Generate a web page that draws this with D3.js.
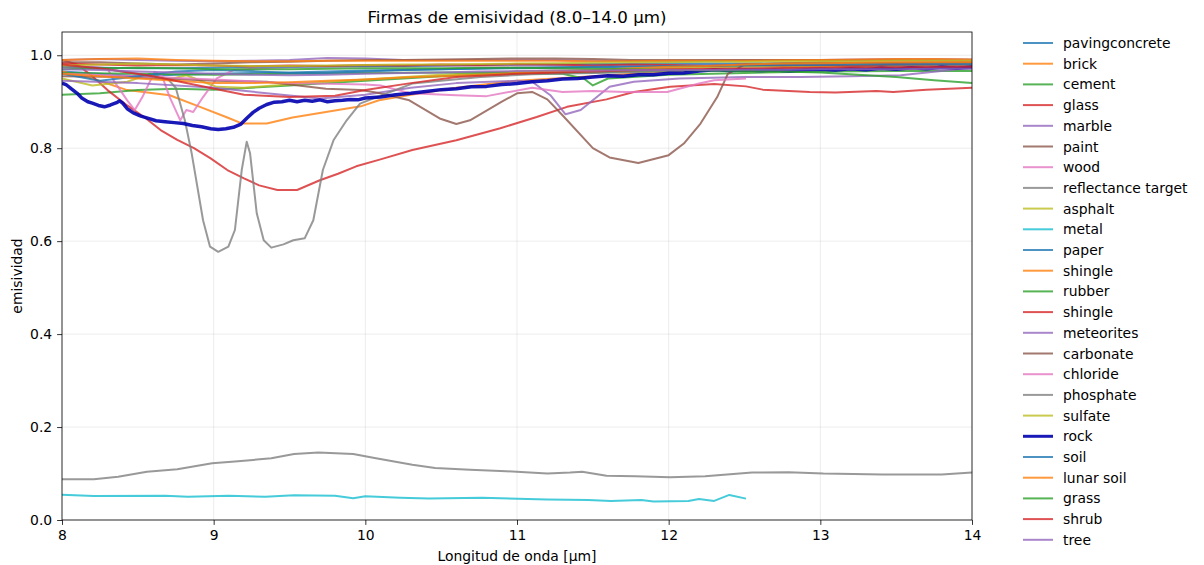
<!DOCTYPE html>
<html>
<head>
<meta charset="utf-8">
<script src="https://cdn.jsdelivr.net/npm/d3@7"></script>
<style>
  body { margin: 0; background: #fff; }
  text { font-family: "DejaVu Sans", sans-serif; fill: #000; }
</style>
</head>
<body>
<div id="mainDiv"></div>
<script>
// shared wavelength grid for the flat spectra
var grid = [8.0, 8.25, 8.5, 8.75, 9.0, 9.25, 9.5, 9.75, 10.0, 10.25, 10.5, 10.75, 11.0,
            11.25, 11.5, 11.75, 12.0, 12.25, 12.5, 12.75, 13.0, 13.25, 13.5, 13.75, 14.0];

var names = ["pavingconcrete", "brick", "cement", "glass", "marble", "paint", "wood",
             "reflectance target", "asphalt", "metal", "paper", "shingle", "rubber", "shingle",
             "meteorites", "carbonate", "chloride", "phosphate", "sulfate", "rock", "soil",
             "lunar soil", "grass", "shrub", "tree"];

var colors = ["#1f77b4", "#ff7f0e", "#2ca02c", "#d62728", "#9467bd", "#8c564b", "#e377c2",
              "#7f7f7f", "#bcbd22", "#17becf"];

// flat ones (values on grid)
var pavingconcrete = [0.965,0.960,0.955,0.958,0.960,0.962,0.963,0.965,0.967,0.968,0.970,0.971,0.972,0.973,0.974,0.975,0.975,0.976,0.977,0.977,0.978,0.978,0.979,0.979,0.980];
var cement = [0.915,0.918,0.925,0.928,0.926,0.930,0.935,0.940,0.945,0.950,0.955,0.958,0.960,0.962,0.963,0.965,0.967,0.968,0.968,0.970,0.970,0.971,0.971,0.972,0.972];
var marble = [0.990,0.992,0.990,0.988,0.987,0.988,0.990,0.994,0.993,0.990,0.990,0.990,0.990,0.990,0.988,0.987,0.987,0.988,0.989,0.990,0.990,0.991,0.992,0.992,0.991];
var paint = [0.985,0.985,0.982,0.980,0.982,0.985,0.986,0.988,0.990,0.990,0.991,0.992,0.993,0.993,0.992,0.990,0.990,0.990,0.990,0.990,0.990,0.990,0.990,0.989,0.988];
var paper = [0.975,0.973,0.972,0.972,0.973,0.975,0.975,0.976,0.977,0.977,0.978,0.979,0.980,0.980,0.981,0.981,0.982,0.982,0.982,0.983,0.983,0.983,0.984,0.984,0.984];
var shingleA = [0.990,0.992,0.993,0.990,0.988,0.987,0.987,0.988,0.988,0.988,0.988,0.988,0.988,0.988,0.987,0.987,0.988,0.988,0.988,0.989,0.990,0.991,0.992,0.992,0.991];
var shingleB = [0.982,0.980,0.978,0.979,0.978,0.976,0.978,0.977,0.979,0.978,0.980,0.979,0.981,0.980,0.978,0.980,0.979,0.977,0.980,0.978,0.979,0.977,0.980,0.979,0.978];
var sulfate = [0.978,0.980,0.982,0.980,0.978,0.977,0.977,0.978,0.979,0.980,0.980,0.981,0.982,0.983,0.984,0.985,0.985,0.986,0.986,0.987,0.987,0.987,0.988,0.988,0.988];
var soil = [0.960,0.945,0.955,0.965,0.968,0.966,0.962,0.962,0.965,0.968,0.970,0.972,0.973,0.974,0.975,0.976,0.977,0.978,0.978,0.979,0.979,0.980,0.980,0.981,0.981];
var lunarSoil = [0.960,0.955,0.950,0.945,0.940,0.940,0.942,0.945,0.948,0.952,0.955,0.958,0.962,0.965,0.968,0.972,0.975,0.977,0.980,0.982,0.983,0.984,0.985,0.985,0.985];
var grass = [0.970,0.972,0.973,0.972,0.970,0.970,0.970,0.971,0.972,0.972,0.972,0.973,0.973,0.972,0.971,0.970,0.969,0.967,0.966,0.965,0.963,0.958,0.953,0.946,0.940];
var tree = [0.970,0.968,0.965,0.963,0.960,0.958,0.957,0.958,0.960,0.962,0.963,0.965,0.966,0.967,0.967,0.968,0.968,0.968,0.969,0.969,0.970,0.970,0.970,0.971,0.971];

// spectra with features: [wavelength, emissivity]
var brick = [[8.0,0.965],[8.2,0.95],[8.43,0.925],[8.71,0.914],[8.91,0.889],[9.09,0.866],[9.19,0.853],[9.35,0.853],[9.52,0.866],[9.74,0.878],[9.97,0.89],[10.09,0.903],[10.3,0.915],[10.6,0.93],[11.0,0.945],[11.5,0.955],[12.0,0.965],[13.0,0.975],[14.0,0.98]];
var glass = [[8.0,0.99],[8.1,0.98],[8.2,0.955],[8.3,0.925],[8.43,0.892],[8.55,0.865],[8.65,0.839],[8.76,0.818],[8.87,0.8],[8.98,0.778],[9.09,0.753],[9.2,0.735],[9.3,0.72],[9.42,0.71],[9.55,0.71],[9.7,0.731],[9.82,0.745],[9.94,0.761],[10.1,0.776],[10.31,0.796],[10.6,0.817],[10.89,0.843],[11.13,0.867],[11.33,0.889],[11.59,0.905],[11.77,0.921],[12.01,0.932],[12.3,0.938],[12.51,0.933],[12.62,0.926],[12.93,0.921],[13.1,0.92],[13.37,0.923],[13.48,0.921],[13.7,0.926],[14.0,0.93]];
var wood = [[8.0,0.975],[8.2,0.975],[8.3,0.972],[8.34,0.946],[8.43,0.903],[8.48,0.882],[8.53,0.91],[8.61,0.964],[8.66,0.955],[8.71,0.91],[8.78,0.86],[8.82,0.882],[8.865,0.878],[8.93,0.91],[9.02,0.95],[9.13,0.968],[9.3,0.972],[9.6,0.975],[10.0,0.976],[11.0,0.978],[12.0,0.979],[13.0,0.98],[14.0,0.98]];
var reflTarget = [[8.0,0.0875],[8.21,0.0875],[8.37,0.093],[8.56,0.104],[8.76,0.109],[8.99,0.122],[9.14,0.126],[9.22,0.128],[9.38,0.133],[9.53,0.142],[9.69,0.145],[9.92,0.142],[10.07,0.133],[10.31,0.119],[10.46,0.112],[10.69,0.108],[10.93,0.105],[11.2,0.1],[11.35,0.102],[11.43,0.104],[11.59,0.095],[11.78,0.094],[12.01,0.092],[12.24,0.094],[12.55,0.102],[12.79,0.103],[13.02,0.1],[13.41,0.098],[13.8,0.098],[14.0,0.102]];
var asphalt = [[8.0,0.95],[8.2,0.935],[8.43,0.943],[8.58,0.96],[8.62,0.95],[8.73,0.95],[8.82,0.957],[8.93,0.943],[9.02,0.932],[9.2,0.93],[9.4,0.935],[9.7,0.942],[10.0,0.948],[10.5,0.958],[11.0,0.965],[12.0,0.972],[13.0,0.978],[14.0,0.98]];
var metal = [[8.0,0.0545],[8.21,0.0516],[8.68,0.052],[8.83,0.05],[9.1,0.052],[9.34,0.05],[9.53,0.053],[9.8,0.052],[9.92,0.047],[10.0,0.051],[10.23,0.048],[10.42,0.046],[10.77,0.048],[11.2,0.044],[11.47,0.043],[11.62,0.041],[11.82,0.043],[11.9,0.04],[12.13,0.041],[12.2,0.045],[12.3,0.041],[12.4,0.054],[12.51,0.046]];
var rubber = [[8.0,0.962],[8.5,0.96],[9.0,0.958],[9.5,0.96],[10.0,0.962],[10.5,0.963],[11.0,0.962],[11.3,0.96],[11.44,0.95],[11.5,0.935],[11.6,0.95],[12.0,0.958],[12.5,0.962],[13.0,0.965],[13.5,0.966],[14.0,0.966]];
var meteorites = [[8.0,0.945],[8.5,0.94],[9.0,0.93],[9.3,0.92],[9.7,0.907],[10.0,0.915],[10.3,0.93],[10.6,0.94],[11.0,0.945],[11.1,0.943],[11.22,0.914],[11.32,0.873],[11.42,0.882],[11.61,0.932],[11.77,0.943],[12.07,0.95],[12.5,0.953],[12.87,0.953],[13.2,0.955],[13.53,0.957],[13.86,0.968],[14.0,0.975]];
var carbonate = [[8.0,0.955],[8.43,0.953],[9.0,0.945],[9.35,0.943],[9.74,0.928],[9.97,0.925],[10.1,0.918],[10.29,0.903],[10.49,0.864],[10.6,0.852],[10.69,0.86],[10.9,0.9],[11.0,0.918],[11.1,0.921],[11.2,0.905],[11.3,0.871],[11.5,0.8],[11.61,0.78],[11.8,0.768],[12.0,0.785],[12.1,0.81],[12.21,0.853],[12.32,0.91],[12.39,0.96],[12.5,0.98],[13.0,0.985],[13.5,0.984],[14.0,0.985]];
var chloride = [[8.0,0.96],[8.5,0.955],[9.0,0.948],[9.5,0.94],[10.0,0.937],[10.1,0.935],[10.3,0.918],[10.6,0.914],[10.8,0.912],[11.1,0.93],[11.3,0.921],[11.5,0.923],[11.72,0.921],[11.99,0.921],[12.2,0.939],[12.3,0.946],[12.51,0.95]];
var phosphate = [[8.0,0.975],[8.3,0.97],[8.5,0.96],[8.7,0.948],[8.75,0.93],[8.81,0.86],[8.855,0.789],[8.93,0.645],[8.976,0.588],[9.03,0.577],[9.097,0.588],[9.14,0.624],[9.185,0.753],[9.218,0.814],[9.24,0.789],[9.284,0.66],[9.33,0.602],[9.38,0.586],[9.46,0.593],[9.525,0.602],[9.6,0.606],[9.657,0.645],[9.72,0.753],[9.79,0.817],[9.877,0.86],[9.965,0.896],[10.05,0.907],[10.31,0.939],[10.76,0.953],[11.1,0.959],[11.5,0.962],[12.0,0.965],[12.5,0.97],[13.0,0.972],[13.5,0.975],[14.0,0.978]];
var rock = [[8.0,0.94],[8.03,0.936],[8.06,0.928],[8.1,0.918],[8.13,0.908],[8.17,0.9],[8.2,0.897],[8.24,0.892],[8.28,0.889],[8.32,0.893],[8.36,0.898],[8.38,0.902],[8.4,0.897],[8.43,0.885],[8.47,0.876],[8.52,0.869],[8.57,0.864],[8.62,0.859],[8.68,0.857],[8.74,0.855],[8.8,0.853],[8.86,0.849],[8.92,0.846],[8.98,0.842],[9.03,0.84],[9.08,0.842],[9.13,0.845],[9.18,0.852],[9.22,0.865],[9.26,0.877],[9.3,0.886],[9.35,0.894],[9.4,0.899],[9.45,0.9],[9.5,0.903],[9.55,0.9],[9.6,0.903],[9.65,0.901],[9.7,0.904],[9.75,0.9],[9.8,0.902],[9.85,0.903],[9.9,0.905],[9.95,0.904],[10.0,0.908],[10.1,0.91],[10.2,0.915],[10.3,0.918],[10.4,0.922],[10.5,0.926],[10.6,0.928],[10.7,0.932],[10.8,0.933],[10.9,0.937],[11.0,0.939],[11.1,0.943],[11.2,0.945],[11.3,0.949],[11.4,0.95],[11.5,0.953],[11.6,0.956],[11.7,0.955],[11.8,0.958],[11.9,0.958],[12.0,0.961],[12.1,0.962],[12.2,0.966],[12.3,0.969],[12.4,0.967],[12.5,0.968],[12.6,0.967],[12.7,0.968],[12.8,0.966],[12.9,0.969],[13.0,0.97],[13.1,0.968],[13.2,0.971],[13.3,0.969],[13.4,0.972],[13.5,0.97],[13.6,0.973],[13.7,0.971],[13.8,0.974],[13.9,0.972],[14.0,0.974]];
var shrub = [[8.0,0.98],[8.3,0.97],[8.6,0.955],[8.9,0.935],[9.2,0.915],[9.5,0.91],[9.8,0.913],[10.0,0.925],[10.3,0.94],[10.6,0.953],[11.0,0.96],[12.0,0.97],[13.0,0.973],[14.0,0.975]];

function onGrid(vals) { return vals.map(function(v, i) { return [grid[i], v]; }); }

var series = [onGrid(pavingconcrete), brick, onGrid(cement), glass, onGrid(marble), onGrid(paint), wood,
              reflTarget, asphalt, metal, onGrid(paper), onGrid(shingleA), rubber, onGrid(shingleB),
              meteorites, carbonate, chloride, phosphate, onGrid(sulfate), rock, onGrid(soil),
              onGrid(lunarSoil), onGrid(grass), shrub, onGrid(tree)];

var width = 1204, height = 565;
var margin = {top: 32, right: 232, bottom: 45, left: 62};

var svg = d3.select("#mainDiv").append("svg")
    .attr("width", width)
    .attr("height", height);

var x = d3.scaleLinear().domain([8, 14]).range([margin.left, width - margin.right]);
var y = d3.scaleLinear().domain([0, 1.05]).range([height - margin.bottom, margin.top]);

var xTicks = [8, 9, 10, 11, 12, 13, 14];
var yTicks = [0, 0.2, 0.4, 0.6, 0.8, 1.0];

// grid
svg.append("g").selectAll("line").data(xTicks).enter().append("line")
    .attr("x1", d => x(d)).attr("x2", d => x(d))
    .attr("y1", margin.top).attr("y2", height - margin.bottom)
    .attr("stroke", "#b0b0b0").attr("stroke-opacity", 0.3).attr("stroke-width", 0.8);
svg.append("g").selectAll("line").data(yTicks).enter().append("line")
    .attr("x1", margin.left).attr("x2", width - margin.right)
    .attr("y1", d => y(d)).attr("y2", d => y(d))
    .attr("stroke", "#b0b0b0").attr("stroke-opacity", 0.3).attr("stroke-width", 0.8);

svg.append("clipPath").attr("id", "clip").append("rect")
    .attr("x", margin.left).attr("y", margin.top)
    .attr("width", width - margin.left - margin.right)
    .attr("height", height - margin.top - margin.bottom);

var line = d3.line().x(d => x(d[0])).y(d => y(d[1]));

var plot = svg.append("g").attr("clip-path", "url(#clip)");
series.forEach(function(s, i) {
    var isRock = names[i] == "rock";
    plot.append("path")
        .attr("d", line(s))
        .attr("fill", "none")
        .attr("stroke", isRock ? "#0000b0" : colors[i % 10])
        .attr("stroke-opacity", isRock ? 0.9 : 0.8)
        .attr("stroke-width", isRock ? 3.5 : 2)
        .attr("stroke-linejoin", "round");
});

// axes
var xAxis = svg.append("g").attr("transform", "translate(0," + (height - margin.bottom) + ")")
    .call(d3.axisBottom(x).tickValues(xTicks).tickFormat(d3.format("d")).tickSize(4.9).tickPadding(4.9));
var yAxis = svg.append("g").attr("transform", "translate(" + margin.left + ",0)")
    .call(d3.axisLeft(y).tickValues(yTicks).tickFormat(d3.format(".1f")).tickSize(4.9).tickPadding(4.9));
[xAxis, yAxis].forEach(function(a) {
    a.selectAll("text").attr("font-size", "13.9px").attr("font-family", "DejaVu Sans, sans-serif");
    a.select(".domain").remove();
    a.selectAll(".tick line").attr("stroke", "#000").attr("stroke-width", 0.8);
});

svg.append("rect")
    .attr("x", margin.left).attr("y", margin.top)
    .attr("width", width - margin.left - margin.right)
    .attr("height", height - margin.top - margin.bottom)
    .attr("fill", "none").attr("stroke", "#000").attr("stroke-width", 0.8);

// labels
svg.append("text").attr("x", (margin.left + width - margin.right) / 2).attr("y", 23)
    .attr("text-anchor", "middle").attr("font-size", "16.7px")
    .text("Firmas de emisividad (8.0–14.0 µm)");
svg.append("text").attr("x", (margin.left + width - margin.right) / 2).attr("y", 561)
    .attr("text-anchor", "middle").attr("font-size", "13.9px")
    .text("Longitud de onda [µm]");
svg.append("text").attr("transform", "translate(22," + ((margin.top + height - margin.bottom) / 2) + ") rotate(-90)")
    .attr("text-anchor", "middle").attr("font-size", "13.9px")
    .text("emisividad");

// legend
var legend = svg.append("g");
names.forEach(function(n, i) {
    var ly = 43 + i * 20.7;
    var isRock = n == "rock";
    legend.append("line")
        .attr("x1", 1023).attr("x2", 1053).attr("y1", ly).attr("y2", ly)
        .attr("stroke", isRock ? "#0000b0" : colors[i % 10])
        .attr("stroke-opacity", isRock ? 0.9 : 0.8)
        .attr("stroke-width", isRock ? 3 : 2);
    legend.append("text")
        .attr("x", 1063).attr("y", ly + 5)
        .attr("font-size", "13.9px")
        .text(n);
});
</script>
</body>
</html>
